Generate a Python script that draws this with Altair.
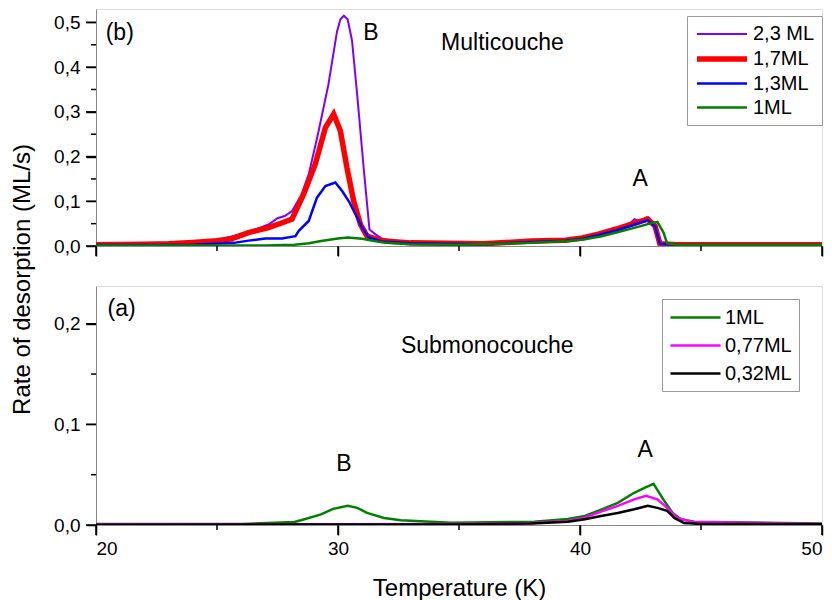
import altair as alt
import pandas as pd

FONT = "Liberation Sans"

# ---------------- Panel (b): Multicouche ----------------
top_names = ["2,3 ML", "1,7ML", "1,3ML", "1ML"]
top_colors = ["#8000FF", "#FF0000", "#0000FF", "#008000"]
top_widths = [2, 5.5, 2.5, 2.5]

t_23 = [20, 22, 23, 24, 24.9, 26.3, 27.13, 27.5, 27.8, 28.1, 28.5, 28.79, 29.2, 29.6, 29.96, 30.1, 30.24,
        30.4, 30.58, 30.79, 31.06, 31.3, 31.55, 31.8, 32.2, 33, 36, 38, 39.4, 40.1, 40.8, 41.5, 42.0,
        42.25, 42.5, 42.75, 43.0, 43.2, 43.4, 44, 50]
r_23 = [0.002, 0.003, 0.005, 0.007, 0.012, 0.031, 0.048, 0.062, 0.067, 0.078, 0.116, 0.16, 0.257, 0.36, 0.48, 0.507, 0.515,
        0.507, 0.459, 0.34, 0.175, 0.037, 0.026, 0.017, 0.012, 0.006, 0.005, 0.009, 0.013, 0.017, 0.026, 0.037, 0.047,
        0.06, 0.055, 0.064, 0.05, 0.02, 0.006, 0.004, 0.002]

t_17 = [20, 22, 23, 24, 25, 25.6, 26.3, 27.13, 27.7, 28.1, 28.58, 29.06, 29.48, 29.82, 30.1, 30.37, 30.65,
        30.93, 31.2, 31.8, 33, 36, 38, 39.4, 40.1, 40.8, 41.5, 42.2, 42.8, 43.1, 43.3, 44, 50]
r_17 = [0.003, 0.004, 0.005, 0.008, 0.012, 0.016, 0.03, 0.041, 0.052, 0.06, 0.116, 0.183, 0.265, 0.295, 0.257, 0.175, 0.10,
        0.048, 0.022, 0.012, 0.007, 0.005, 0.011, 0.013, 0.018, 0.027, 0.038, 0.05, 0.06, 0.045, 0.005, 0.003, 0.003]

t_13 = [20, 24, 25.7, 26.3, 27.0, 27.68, 28.24, 28.38, 28.79, 29.13, 29.48, 29.89, 30.17, 30.45, 30.72,
        31.0, 31.27, 31.8, 33, 36, 38, 39.4, 40.1, 40.8, 41.5, 42.2, 42.8, 43.1, 43.3, 44, 50]
r_13 = [0.002, 0.003, 0.007, 0.012, 0.017, 0.017, 0.022, 0.034, 0.056, 0.108, 0.134, 0.142, 0.123, 0.10, 0.071,
        0.041, 0.019, 0.01, 0.006, 0.004, 0.009, 0.012, 0.016, 0.025, 0.035, 0.047, 0.058, 0.044, 0.005, 0.003, 0.002]

t_1b = [20, 27, 28.2, 28.8, 29.3, 30.0, 30.4, 31.0, 31.5, 32, 33, 35, 38, 39.5, 40.2, 40.9, 41.5, 42.2,
        42.8, 43.2, 43.45, 43.6, 44, 50]
r_1b = [0.001, 0.001, 0.003, 0.006, 0.011, 0.017, 0.019, 0.016, 0.011, 0.007, 0.004, 0.003, 0.007, 0.011, 0.015,
        0.022, 0.03, 0.04, 0.049, 0.054, 0.03, 0.006, 0.003, 0.002]

# ---------------- Panel (a): Submonocouche ----------------
bot_names = ["1ML", "0,77ML", "0,32ML"]
bot_colors = ["#008000", "#FF00FF", "#000000"]
bot_widths = [2.5, 2.5, 2.5]

t_1a = [20, 26, 28.2, 28.47, 29.3, 29.8, 30.4, 30.8, 31.2, 31.9, 32.6, 34.67, 38.1, 39.5, 40.2, 40.9,
        41.56, 42.24, 42.73, 43.04, 43.48, 43.83, 44.17, 44.72, 50]
r_1a = [0.001, 0.001, 0.003, 0.0047, 0.0106, 0.016, 0.019, 0.017, 0.012, 0.007, 0.0047, 0.0023, 0.0033, 0.006,
        0.009, 0.0156, 0.022, 0.032, 0.0377, 0.041, 0.024, 0.012, 0.0057, 0.0033, 0.0015]

t_077 = [20, 30, 35, 38, 39.5, 40.2, 40.87, 41.56, 42.24, 42.73, 43.2, 43.6, 44.0, 44.6, 50]
r_077 = [0.0005, 0.0008, 0.001, 0.002, 0.004, 0.0073, 0.0133, 0.019, 0.0255, 0.029, 0.0255, 0.017, 0.0073, 0.003, 0.001]

t_032 = [20, 35, 38, 39.5, 40.2, 40.87, 41.56, 42.24, 42.8, 43.2, 43.6, 43.9, 44.3, 45, 50]
r_032 = [0.0003, 0.0005, 0.0015, 0.0033, 0.0057, 0.009, 0.012, 0.0156, 0.019, 0.017, 0.014, 0.007, 0.002, 0.001, 0.0008]

# annotations
top_notes_text = ["(b)", "B", "Multicouche", "A"]
top_notes_t = [20.4, 31.36, 34.26, 42.49]
top_notes_r = [0.476, 0.476, 0.454, 0.149]
top_notes_align = ["left", "center", "left", "center"]

bot_notes_text = ["(a)", "Submonocouche", "B", "A"]
bot_notes_t = [20.48, 32.6, 30.24, 42.69]
bot_notes_r = [0.215, 0.178, 0.061, 0.075]
bot_notes_align = ["left", "left", "center", "center"]

x_major = [20, 30, 40, 50]
x_minor = [25, 35, 45]
y_top_major = [0, 0.1, 0.2, 0.3, 0.4, 0.5]
y_top_minor = [0.05, 0.15, 0.25, 0.35, 0.45]
y_bot_major = [0, 0.1, 0.2]
y_bot_minor = [0.05, 0.15]


def long_df(names, ts, rs):
    rows = []
    for i, (n, t, r) in enumerate(zip(names, ts, rs)):
        for k, (a, b) in enumerate(zip(t, r)):
            rows.append({"T": a, "rate": b, "series": n, "k": k})
    return pd.DataFrame(rows)


df_top = long_df(top_names, [t_23, t_17, t_13, t_1b], [r_23, r_17, r_13, r_1b])
df_bot = long_df(bot_names, [t_1a, t_077, t_032], [r_1a, r_077, r_032])
notes_top = pd.DataFrame({"T": top_notes_t, "rate": top_notes_r, "txt": top_notes_text, "al": top_notes_align})
notes_bot = pd.DataFrame({"T": bot_notes_t, "rate": bot_notes_r, "txt": bot_notes_text, "al": bot_notes_align})

ylab = "replace(format(datum.value, '.1f'), '.', ',')"
W = 726


def make_legend(legx, legy, rowpad):
    # symbol path spans 0..50 px from the entry's left edge (size 400 -> half-size 10)
    return alt.Legend(title=None, orient="none", legendX=legx, legendY=legy,
                      symbolType="M-1,0H4", symbolSize=400, labelFontSize=20,
                      labelFont=FONT, labelColor="black", strokeColor="#999999",
                      fillColor="white", padding=7, rowPadding=rowpad, labelOffset=33)


def panel(df, notes, names, colors, widths, ydom, ymaj, ymin, height, legx, legy, rowpad,
          show_xlabels, ytitle):
    xscale = alt.Scale(domain=[20, 50], nice=False, zero=False)
    yscale = alt.Scale(domain=ydom, nice=False, zero=False)
    xaxis = alt.Axis(values=x_major, labels=show_xlabels, ticks=True, tickSize=10, tickColor="black",
                     tickWidth=1.5, grid=False,
                     labelFontSize=19, labelPadding=4, labelFont=FONT,
                     title="Temperature (K)" if show_xlabels else None,
                     titleFontSize=24, titleFont=FONT, titleFontWeight="normal",
                     titleY=70, titleBaseline="alphabetic", orient="bottom")
    if ytitle:
        yaxis = alt.Axis(values=ymaj, labelExpr=ylab, ticks=True, tickSize=10, tickColor="black",
                         tickWidth=1.5, grid=False, labelOverlap=False,
                         labelFontSize=19, labelPadding=6, labelFont=FONT,
                         title=ytitle, titleFontSize=24, titleFont=FONT, titleFontWeight="normal",
                         titleAngle=270, titleX=-67, titleY=270, titleBaseline="alphabetic",
                         titleAlign="center", orient="left")
    else:
        yaxis = alt.Axis(values=ymaj, labelExpr=ylab, ticks=True, tickSize=10, tickColor="black",
                         tickWidth=1.5, grid=False, labelOverlap=False,
                         labelFontSize=19, labelPadding=6, labelFont=FONT, title=None, orient="left")

    X = alt.X("T:Q", scale=xscale, axis=xaxis)
    Y = alt.Y("rate:Q", scale=yscale, axis=yaxis)

    lines = alt.Chart(df).mark_line(clip=True).encode(
        x=X, y=Y,
        color=alt.Color("series:N", scale=alt.Scale(domain=names, range=colors),
                        legend=make_legend(legx, legy, rowpad)),
        strokeWidth=alt.StrokeWidth("series:N",
                                    scale=alt.Scale(type="ordinal", domain=names, range=widths),
                                    legend=make_legend(legx, legy, rowpad)),
        order="k:Q",
        detail="series:N",
    )

    # tick marks drawn as rules through the same scales
    xmaj = alt.Chart(pd.DataFrame({"T": x_major})).mark_rule(color="black", strokeWidth=1.5).encode(
        x=X, y=alt.value(height), y2=alt.value(height + 10))
    xmin = alt.Chart(pd.DataFrame({"T": x_minor})).mark_rule(color="black", strokeWidth=1.5).encode(
        x=X, y=alt.value(height), y2=alt.value(height + 5))
    ymj = alt.Chart(pd.DataFrame({"rate": ymaj})).mark_rule(color="black", strokeWidth=1.5).encode(
        y=Y, x=alt.value(-10), x2=alt.value(0))
    ymn = alt.Chart(pd.DataFrame({"rate": ymin})).mark_rule(color="black", strokeWidth=1.5).encode(
        y=Y, x=alt.value(-5), x2=alt.value(0))

    base = alt.Chart(notes)
    txt_left = base.transform_filter("datum.al == 'left'").mark_text(
        font=FONT, fontSize=23, baseline="middle", align="left", color="black"
    ).encode(x=X, y=Y, text="txt:N")
    txt_center = base.transform_filter("datum.al == 'center'").mark_text(
        font=FONT, fontSize=23, baseline="middle", align="center", color="black"
    ).encode(x=X, y=Y, text="txt:N")
    return alt.layer(lines, xmaj, xmin, ymj, ymn, txt_left, txt_center).properties(width=W, height=height)


top = panel(df_top, notes_top, top_names, top_colors, top_widths, [0, 0.53], y_top_major, y_top_minor, 237,
            591, 7, 2, False, "Rate of desorption (ML/s)")
bot = panel(df_bot, notes_bot, bot_names, bot_colors, bot_widths, [0, 0.2375], y_bot_major, y_bot_minor, 239,
            566, 13, 6, True, None)

chart = alt.vconcat(top, bot, spacing=40, bounds="flush").resolve_scale(
    color="independent", strokeWidth="independent", x="independent", y="independent"
).resolve_legend(color="independent", strokeWidth="independent").properties(
    padding={"left": 9, "top": 8, "right": 5, "bottom": 5}
).configure_view(stroke="black", strokeWidth=1.5).configure_axis(
    domainColor="black", tickColor="black", domainWidth=1.5, tickWidth=1.5, labelColor="black",
    titleColor="black"
).configure(background="white")

chart.save("out.html", embed_options={"renderer": "svg", "actions": False})
